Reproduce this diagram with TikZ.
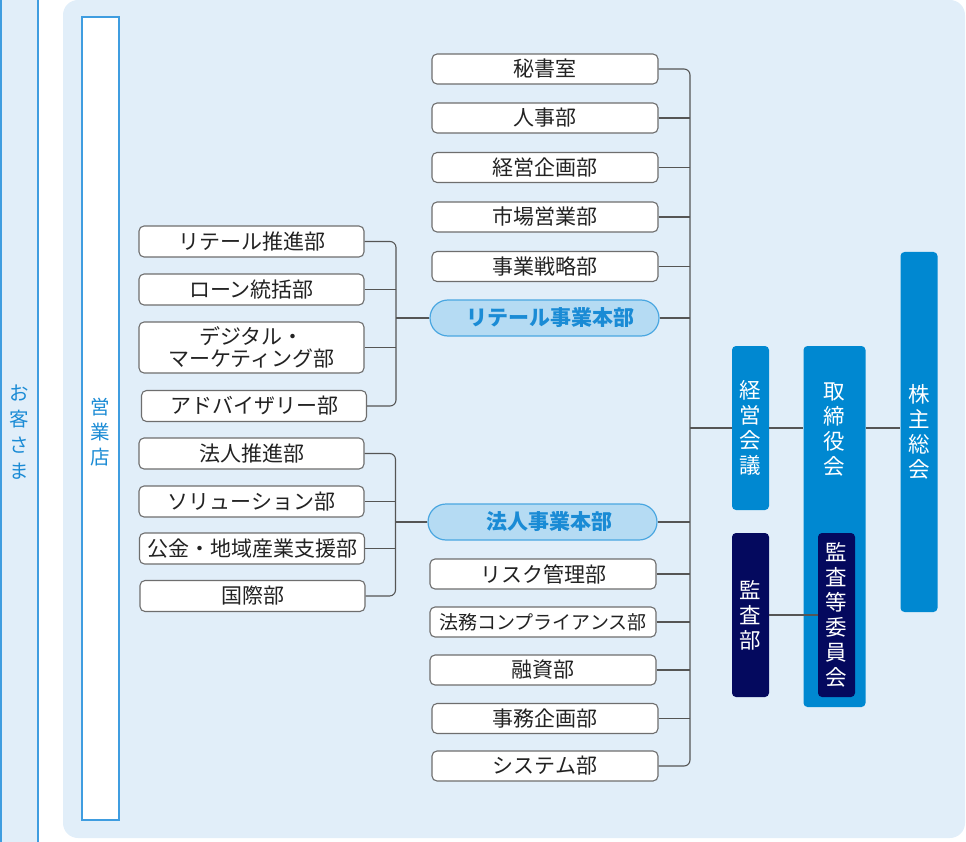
\documentclass[tikz,border=0pt]{standalone}
\usepackage{fontspec}
\setmainfont{Noto Sans CJK JP}
\usepackage{tikz}

\definecolor{panelblue}{HTML}{E1EEF9}
\definecolor{lineblue}{HTML}{3F9DE0}
\definecolor{textblue}{HTML}{1A8BD5}
\definecolor{hqfill}{HTML}{B5DBF3}
\definecolor{hqline}{HTML}{4AA7E1}
\definecolor{midblue}{HTML}{0088D1}
\definecolor{navy}{HTML}{04095E}
\definecolor{boxline}{HTML}{6E6E6E}
\definecolor{connline}{HTML}{555555}
\definecolor{inktext}{HTML}{222222}

\tikzset{
  deptbox/.style={draw=boxline, line width=1.1pt, fill=white, rounded corners=5pt,
    minimum width=226pt, minimum height=30pt, inner sep=0pt, text=inktext,
    font=\fontsize{21}{22}\selectfont, align=center},
  branchbox/.style={deptbox, minimum width=225pt, minimum height=31pt},
  hqbox/.style={draw=hqline, line width=1.2pt, fill=hqfill, rounded corners=18pt,
    minimum width=229pt, minimum height=36pt, inner sep=0pt, text=textblue,
    font=\fontsize{21}{22}\selectfont\bfseries},
  bar/.style={rounded corners=4pt, minimum width=37pt, inner sep=0pt},
  vtext/.style={text=white, align=center, inner sep=0pt, font=\fontsize{21.5}{25}\selectfont},
  conn/.style={draw=connline, line width=1.1pt, rounded corners=6pt},
}

\begin{document}
\begin{tikzpicture}[x=1pt,y=-1pt]
    \path[use as bounding box, clip] (0,0) rectangle (966,842);

    % background
    \fill[panelblue, rounded corners=15pt] (63,0) rectangle (965,838);

    % customers and branches
    \node[draw=lineblue, fill=panelblue, line width=1.2pt, minimum width=37pt,
      minimum height=860pt, inner sep=0pt] (guest) at (19.5,421) {};
    \node[text=textblue, align=center, inner sep=0pt,
      font=\fontsize{19.5}{26}\selectfont] (guest label) at (19.5,432) {お\\客\\さ\\ま};
    \node[draw=lineblue, fill=white, line width=1.2pt, minimum width=37pt,
      minimum height=803pt, inner sep=0pt] (shop) at (100.5,418.5) {};
    \node[text=textblue, align=center, inner sep=0pt,
      font=\fontsize{19.5}{25}\selectfont] (shop label) at (100.5,432) {営\\業\\店};

    % upper staff departments
    \node[deptbox] (hisho) at (545,69) {秘書室};
    \node[deptbox] (jinji) at (545,118) {人事部};
    \node[deptbox] (kikaku) at (545,167.5) {経営企画部};
    \node[deptbox] (shijo) at (545,217) {市場営業部};
    \node[deptbox] (senryaku) at (545,266.5) {事業戦略部};

    % business headquarters
    \node[hqbox] (retailhq) at (544.5,318) {\hspace*{12pt}リテール事業本部};
    \node[hqbox] (corphq) at (542.5,522) {\hspace*{14pt}法人事業本部};

    % lower staff departments
    \node[deptbox] (risk) at (543,574) {リスク管理部};
    \node[deptbox, font=\fontsize{19}{22}\selectfont] (houmu) at (543,622) {法務コンプライアンス部};
    \node[deptbox] (yushi) at (543,670) {融資部};
    \node[deptbox] (jimu) at (545,718.5) {事務企画部};
    \node[deptbox] (system) at (545,766) {システム部};

    % retail departments
    \node[branchbox] (rsuishin) at (251.5,241.5) {リテール推進部};
    \node[branchbox] (loan) at (251.5,289.5) {ローン統括部};
    \node[branchbox, minimum height=51pt] (digital) at (251.5,347.5) {デジタル・\\マーケティング部};
    \node[branchbox] (advisor) at (254,406) {アドバイザリー部};

    % corporate departments
    \node[branchbox] (csuishin) at (251.5,453.5) {法人推進部};
    \node[branchbox] (solution) at (251.5,501.5) {ソリューション部};
    \node[branchbox] (koukin) at (252,548.5) {公金・地域産業支援部};
    \node[branchbox] (kokusai) at (252.5,596) {国際部};

    % trunk line
    \coordinate (trunk) at (690,0);
    \draw[conn] (hisho.east) -- (hisho.east -| trunk) -- (system.east -| trunk) -- (system.east);
    \foreach \d in {jinji,kikaku,shijo,senryaku,retailhq,corphq,risk,houmu,yushi,jimu}
        \draw[conn] (\d.east) -- (\d.east -| trunk);

    % retail bracket
    \coordinate (rbranch) at (396,0);
    \draw[conn] (rsuishin.east) -- (rsuishin.east -| rbranch) -- (advisor.east -| rbranch) -- (advisor.east);
    \foreach \d in {loan,digital}
        \draw[conn] (\d.east) -- (\d.east -| rbranch);
    \draw[conn] (retailhq.west) -- (retailhq.west -| rbranch);

    % corporate bracket
    \coordinate (cbranch) at (395.5,0);
    \draw[conn] (csuishin.east) -- (csuishin.east -| cbranch) -- (kokusai.east -| cbranch) -- (kokusai.east);
    \foreach \d in {solution,koukin}
        \draw[conn] (\d.east) -- (\d.east -| cbranch);
    \draw[conn] (corphq.west) -- (corphq.west -| cbranch);

    % management
    \node[bar, fill=midblue, minimum height=164pt, vtext] (kaigi) at (750.5,428) {経\\営\\会\\議};
    \node[bar, fill=midblue, minimum width=62pt, minimum height=361pt] (board) at (834.5,526.5) {};
    \node[vtext] (board label) at (834.5,430) {取\\締\\役\\会};
    \node[bar, fill=midblue, minimum height=360pt, vtext] (kabunushi) at (919,432) {株\\主\\総\\会};
    \node[bar, fill=navy, minimum height=164pt, vtext] (kansa) at (750.5,615) {監\\査\\部};
    \node[bar, fill=navy, minimum height=164pt, vtext] (iinkai) at (836.5,615) {監\\査\\等\\委\\員\\会};

    \draw[conn] (kaigi.west) -- (kaigi.west -| trunk);
    \draw[conn] (kaigi.east) -- (kaigi.east -| board.west);
    \draw[conn] (board.east |- kaigi.east) -- (kabunushi.west |- kaigi.east);
    \draw[conn] (kansa.east) -- (kansa.east -| iinkai.west);
\end{tikzpicture}
\end{document}
